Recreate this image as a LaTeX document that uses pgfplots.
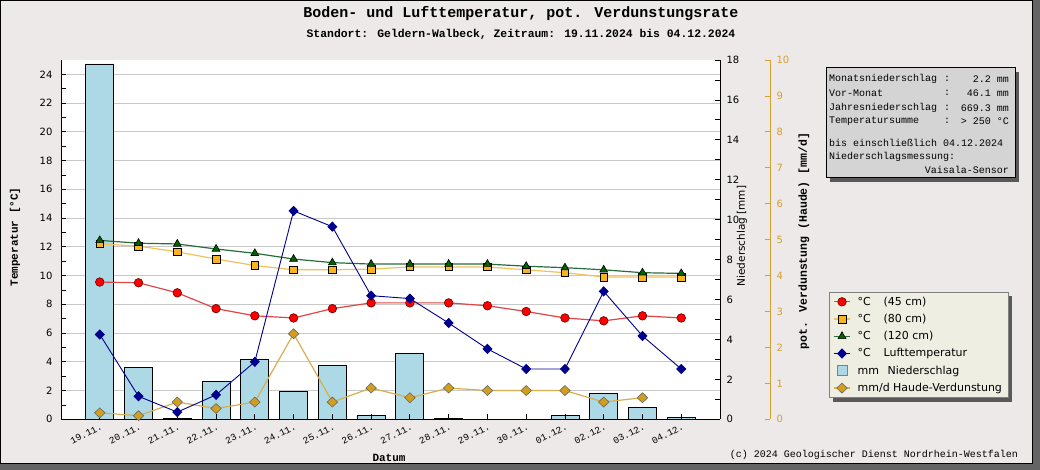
\documentclass[border=0pt]{standalone}
\usepackage{pgfplots}
\pgfplotsset{compat=1.18}
\usepackage{pgfplotstable}
\usepackage{fontspec}
\setmainfont{DejaVu Sans}
\newfontfamily\mono{Liberation Mono}
\definecolor{bgc}{RGB}{236,233,232}
\definecolor{shadowc}{RGB}{100,100,100}
\definecolor{barc}{RGB}{173,216,230}
\definecolor{gridc}{RGB}{200,200,200}
\definecolor{goldc}{RGB}{212,160,48}
\definecolor{evapm}{RGB}{210,158,30}
\definecolor{evapl}{RGB}{215,175,80}
\definecolor{redl}{RGB}{225,70,70}
\definecolor{orangem}{RGB}{250,180,30}
\definecolor{orangel}{RGB}{240,195,90}
\definecolor{greenm}{RGB}{0,100,0}
\definecolor{greenl}{RGB}{40,110,60}
\definecolor{navyc}{RGB}{0,0,140}
\definecolor{infoc}{RGB}{212,212,212}
\definecolor{legc}{RGB}{238,238,226}
\pgfplotsset{/pgf/number format/assume math mode=true}
\pgfdeclarelayer{pagebg}
\pgfdeclarelayer{shadowlayer}
\pgfsetlayers{pagebg,shadowlayer,main}

\pgfplotstableread{
x t45 t80 t120 air
0 9.55 12.2 12.45 5.9
1 9.5 12.05 12.25 1.6
2 8.8 11.65 12.2 0.5
3 7.7 11.15 11.85 1.7
4 7.2 10.7 11.55 4.0
5 7.05 10.4 11.15 14.5
6 7.7 10.4 10.9 13.4
7 8.1 10.45 10.8 8.6
8 8.1 10.6 10.8 8.4
9 8.1 10.6 10.8 6.7
10 7.9 10.6 10.8 4.9
11 7.5 10.4 10.65 3.5
12 7.05 10.2 10.55 3.5
13 6.85 9.9 10.4 8.9
14 7.2 9.9 10.2 5.8
15 7.05 9.9 10.15 3.5
}\temps

\pgfplotstableread{
x rain
0 17.8
1 2.6
2 0.05
3 1.9
4 3.0
5 1.4
6 2.7
7 0.2
8 3.3
9 0.05
10 0
11 0
12 0.2
13 1.3
14 0.6
15 0.1
}\rain

\pgfplotstableread{
x evap
0 0.18
1 0.1
2 0.48
3 0.3
4 0.48
5 2.38
6 0.48
7 0.87
8 0.6
9 0.87
10 0.8
11 0.8
12 0.8
13 0.48
14 0.6
}\evap

\pgfplotsset{
  basebox/.style={
    at={(61pt,50.7pt)}, anchor=south west,
    scale only axis, width=659pt, height=359.3pt,
    xmin=-1, xmax=16, enlargelimits=false,
  }
}

\begin{document}
\begin{tikzpicture}
\useasboundingbox (0,0) rectangle (1040pt,470pt);
\begin{pgfonlayer}{pagebg}
\fill[shadowc] (0,0) rectangle (1040pt,470pt);
\fill[bgc] (0,6pt) rectangle (1033pt,470pt);
\draw[black, line width=1pt] (0.5pt,6.5pt) rectangle (1032.5pt,469.5pt);
\end{pgfonlayer}
\fill[white] (61pt,50.7pt) rectangle (720pt,410pt);

% axis 1: temperature scale and grid
\begin{axis}[basebox,
  ymin=0, ymax=25,
  axis x line*=bottom, axis y line*=left,
  xtick=\empty,
  axis line style={line width=1pt, black},
  ytick={0,2,...,24}, minor ytick={1,3,...,23},
  tick align=inside, major tick length=5pt, minor tick length=5pt,
  every tick/.style={black, line width=0.8pt},
  ymajorgrids, major grid style={gridc, line width=1pt},
  yticklabel style={font=\fontsize{10}{12}\selectfont, xshift=-5pt},
]
\end{axis}

% axis 2: precipitation bars
\begin{axis}[basebox,
  ymin=0, ymax=18,
  axis x line*=bottom, axis y line*=right,
  axis on top,
  axis line style={line width=1pt, black},
  xtick={0,...,15},
  xticklabels={19.11.,20.11.,21.11.,22.11.,23.11.,24.11.,25.11.,26.11.,27.11.,28.11.,29.11.,30.11.,01.12.,02.12.,03.12.,04.12.},
  x tick label style={font=\mono\fontsize{9.5}{11}\selectfont, rotate=27, anchor=north east, inner sep=0.5pt, yshift=-3pt, xshift=-1pt},
  ytick={0,2,...,18}, minor ytick={1,3,...,17},
  tick align=inside, major tick length=5pt, minor tick length=5pt,
  every tick/.style={black, line width=0.8pt},
  yticklabel style={font=\fontsize{10}{12}\selectfont, xshift=3pt},
]
\addplot[ybar, bar width=28pt, fill=barc, draw=black, line width=0.8pt] table[x=x, y=rain] {\rain};
\end{axis}

% axis 3: evaporation data
\begin{axis}[basebox, ymin=0, ymax=10, hide axis]
\addplot[evapl, line width=1.2pt, mark=diamond*, mark size=5pt,
  mark options={solid, fill=evapm, draw=black!60, xscale=1.4, line width=0.6pt}]
  table[x=x, y=evap] {\evap};
\end{axis}

% axis 3b: evaporation scale
\begin{axis}[at={(770pt,50.7pt)}, anchor=south east,
  scale only axis, width=10pt, height=359.3pt,
  xmin=0, xmax=1, ymin=0, ymax=10,
  axis x line=none, axis y line*=right,
  axis line style={goldc, line width=1pt},
  ytick={0,...,10}, tick align=inside, major tick length=5pt,
  every tick/.style={goldc, line width=0.8pt},
  yticklabel style={font=\fontsize{10}{12}\selectfont, text=goldc, xshift=3pt},
]
\end{axis}

% axis 4: temperature lines and legend
\begin{axis}[basebox, ymin=0, ymax=25, hide axis,
  legend style={name=leg, at={(1.1654,0.3543)}, anchor=north west,
    fill=legc, draw=gray, line width=0.8pt,
    font=\fontsize{11}{13}\selectfont,
    row sep=3.4pt, inner xsep=4pt, inner ysep=2.5pt,
    /tikz/every odd column/.append style={column sep=5pt}},
  legend cell align=left,
  legend image code/.code={\draw[mark repeat=2, mark phase=2] plot coordinates {(0pt,0pt) (8pt,0pt) (16pt,0pt)};},
]
\addplot[redl, line width=1.2pt, mark=*, mark size=4.3pt,
  mark options={solid, fill=red, draw=black!60!red, line width=0.6pt}]
  table[x=x, y=t45] {\temps};
\addlegendentry{\makebox[26pt][l]{°C}(45 cm)}
\addplot[orangel, line width=1.2pt, mark=square*, mark size=3.8pt,
  mark options={solid, fill=orangem, draw=black, line width=0.6pt}]
  table[x=x, y=t80] {\temps};
\addlegendentry{\makebox[26pt][l]{°C}(80 cm)}
\addplot[greenl, line width=1.2pt, mark=triangle*, mark size=4.5pt,
  mark options={solid, fill=greenm, draw=black, line width=0.6pt}]
  table[x=x, y=t120] {\temps};
\addlegendentry{\makebox[26pt][l]{°C}(120 cm)}
\addplot[navyc, line width=0.9pt, mark=diamond*, mark size=4.5pt,
  mark options={solid, fill=navyc, draw=navyc, xscale=1.3}]
  table[x=x, y=air] {\temps};
\addlegendentry{\makebox[26pt][l]{°C}Lufttemperatur}
\addlegendimage{legend image code/.code={\draw[fill=barc, draw=gray, line width=0.8pt] (3pt,-5pt) rectangle (13pt,5pt);}}
\addlegendentry{\makebox[30pt][l]{mm}Niederschlag}
\addlegendimage{evapl, line width=1.2pt, mark=diamond*, mark size=5pt,
  mark options={solid, fill=evapm, draw=black!60, xscale=1.4, line width=0.6pt}}
\addlegendentry{mm/d Haude-Verdunstung}
\end{axis}

\begin{pgfonlayer}{shadowlayer}
\fill[black!65] ([shift={(4pt,-4pt)}]leg.south west) rectangle ([shift={(4pt,-4pt)}]leg.north east);
\end{pgfonlayer}

% titles and labels
\node[font=\mono\bfseries\fontsize{15}{18}\selectfont] at (521pt,456pt) {Boden- und Lufttemperatur, pot. Verdunstungsrate};
\node[font=\mono\bfseries\fontsize{11.4}{14}\selectfont] at (521pt,436pt) {Standort: Geldern-Walbeck, Zeitraum: 19.11.2024 bis 04.12.2024};
\node[rotate=90, font=\mono\bfseries\fontsize{11}{13}\selectfont] at (15pt,233pt) {Temperatur [°C]};
\node[rotate=90, font=\fontsize{10.5}{12}\selectfont] at (742pt,234pt) {Niederschlag [mm]};
\node[rotate=90, font=\mono\bfseries\fontsize{11.5}{13}\selectfont] at (804pt,229pt) {pot. Verdunstung (Haude) [mm/d]};
\node[font=\mono\bfseries\fontsize{11}{13}\selectfont] at (389pt,12pt) {Datum};
\node[font=\mono\fontsize{10}{12}\selectfont] at (874pt,15pt) {(c) 2024 Geologischer Dienst Nordrhein-Westfalen};

% info box
\fill[black!65] (830pt,288pt) rectangle (1019pt,398pt);
\draw[fill=infoc, line width=1pt] (826pt,292pt) rectangle (1015pt,402pt);
\begin{scope}[every node/.style={font=\mono\fontsize{10}{12}\selectfont, inner sep=0pt}]
\node[anchor=west] at (829pt,391pt) {Monatsniederschlag};
\node[anchor=west] at (829pt,377pt) {Vor-Monat};
\node[anchor=west] at (829pt,362pt) {Jahresniederschlag};
\node[anchor=west] at (829pt,349pt) {Temperatursumme};
\node at (947pt,391pt) {:};
\node at (947pt,377pt) {:};
\node at (947pt,362pt) {:};
\node at (947pt,349pt) {:};
\node[anchor=east] at (1009pt,391pt) {2.2 mm};
\node[anchor=east] at (1009pt,377pt) {46.1 mm};
\node[anchor=east] at (1009pt,362pt) {669.3 mm};
\node[anchor=east] at (1009pt,349pt) {> 250 °C};
\node[anchor=west] at (829pt,327pt) {bis einschließlich 04.12.2024};
\node[anchor=west] at (829pt,313pt) {Niederschlagsmessung:};
\node[anchor=east] at (1009pt,300pt) {Vaisala-Sensor};
\end{scope}
\end{tikzpicture}
\end{document}
